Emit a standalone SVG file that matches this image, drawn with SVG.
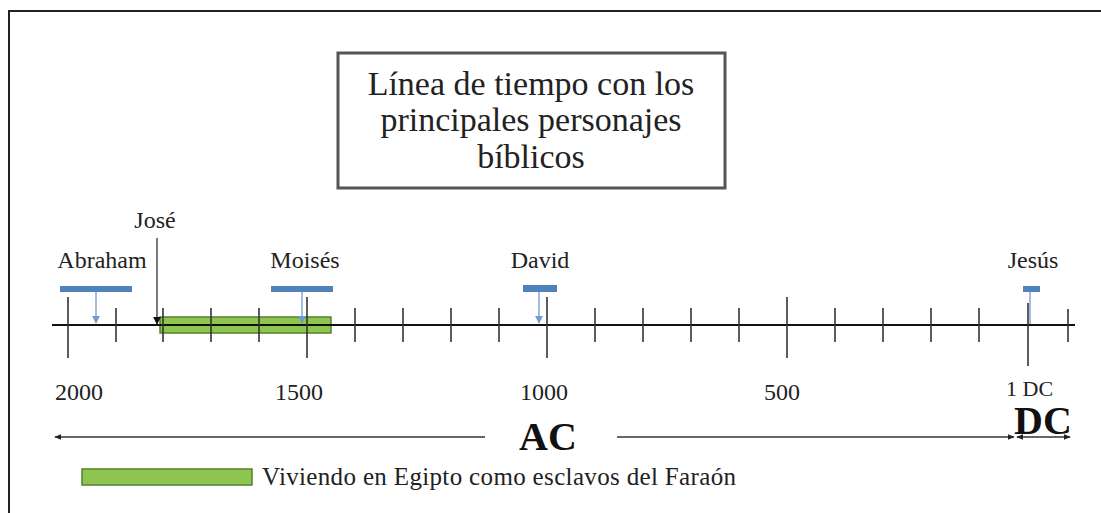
<svg xmlns="http://www.w3.org/2000/svg" width="1101" height="513" viewBox="0 0 1101 513">
<defs>
<style>
.t{font-family:"Liberation Serif","Times New Roman",serif;fill:#222}
.lbl{font-size:24px;text-anchor:middle}
.yr{font-size:24px}
.big{font-size:40px;font-weight:bold;fill:#111}
.tick{stroke:#333;stroke-width:1.6}
.bar{fill:#4f81bd}
.barln{stroke:#6f9bd0;stroke-width:1.3;fill:none}
.conn{stroke:#333;stroke-width:1.3;fill:none}
</style>
<marker id="bh" viewBox="0 0 10 10" refX="9" refY="5" markerWidth="8" markerHeight="8" markerUnits="userSpaceOnUse" orient="auto">
<path d="M0,0 L10,5 L0,10 z" fill="#6f9bd0"/>
</marker>
<marker id="kh" viewBox="0 0 10 10" refX="9" refY="5" markerWidth="8" markerHeight="8" markerUnits="userSpaceOnUse" orient="auto">
<path d="M0,0 L10,5 L0,10 z" fill="#111"/>
</marker>
<marker id="sh" viewBox="0 0 10 10" refX="9" refY="5" markerWidth="7" markerHeight="7" markerUnits="userSpaceOnUse" orient="auto-start-reverse">
<path d="M0,1 L10,5 L0,9 z" fill="#222"/>
</marker>
</defs>
<rect x="0" y="0" width="1101" height="513" fill="#fff"/>
<path d="M9,513 V11 H1101" fill="none" stroke="#222" stroke-width="2"/>

<g id="title">
<rect x="338" y="53" width="387" height="135" fill="#fff" stroke="#555" stroke-width="3"/>
<text class="t" x="531" y="95" font-size="34" text-anchor="middle">Línea de tiempo con los</text>
<text class="t" x="531" y="131" font-size="34" text-anchor="middle">principales personajes</text>
<text class="t" x="531" y="168" font-size="34" text-anchor="middle">bíblicos</text>
</g>

<g id="egypt-period">
<rect x="160" y="317" width="171" height="16" fill="#8dc54f" stroke="#55802c" stroke-width="1.5"/>
</g>

<g id="axis">
<line x1="52" y1="325" x2="1075" y2="325" stroke="#111" stroke-width="2"/>
<g class="tick">
<line x1="68" y1="297" x2="68" y2="358"/>
<line x1="116" y1="308" x2="116" y2="342"/>
<line x1="163" y1="308" x2="163" y2="342"/>
<line x1="211" y1="308" x2="211" y2="342"/>
<line x1="259" y1="308" x2="259" y2="342"/>
<line x1="307" y1="297" x2="307" y2="358"/>
<line x1="355" y1="308" x2="355" y2="342"/>
<line x1="403" y1="308" x2="403" y2="342"/>
<line x1="451" y1="308" x2="451" y2="342"/>
<line x1="499" y1="308" x2="499" y2="342"/>
<line x1="547" y1="297" x2="547" y2="358"/>
<line x1="595" y1="308" x2="595" y2="342"/>
<line x1="643" y1="308" x2="643" y2="342"/>
<line x1="691" y1="308" x2="691" y2="342"/>
<line x1="739" y1="308" x2="739" y2="342"/>
<line x1="787" y1="297" x2="787" y2="358"/>
<line x1="835" y1="308" x2="835" y2="342"/>
<line x1="883" y1="308" x2="883" y2="342"/>
<line x1="931" y1="308" x2="931" y2="342"/>
<line x1="979" y1="308" x2="979" y2="342"/>
<line x1="1028" y1="303" x2="1028" y2="366"/>
<line x1="1068" y1="309" x2="1068" y2="342"/>
</g>
</g>

<g id="abraham">
<rect class="bar" x="60" y="286" width="72" height="6"/>
<text class="t lbl" x="102" y="268">Abraham</text>
</g>
<g id="jose">
<text class="t lbl" x="155" y="228">José</text>
</g>
<g id="moises">
<rect class="bar" x="271" y="286" width="62" height="6"/>
<text class="t lbl" x="305" y="268">Moisés</text>
</g>
<g id="david">
<rect class="bar" x="523" y="285" width="34" height="7"/>
<text class="t lbl" x="540" y="268">David</text>
</g>
<g id="jesus">
<rect class="bar" x="1023" y="286" width="17" height="6"/>
<text class="t lbl" x="1033" y="268">Jesús</text>
</g>

<g id="connectors">
<line class="barln" x1="96" y1="292" x2="96" y2="323" marker-end="url(#bh)"/>
<line class="barln" x1="302" y1="292" x2="302" y2="323" marker-end="url(#bh)"/>
<line class="barln" x1="539" y1="292" x2="539" y2="323" marker-end="url(#bh)"/>
<line class="barln" x1="1030" y1="292" x2="1030" y2="324"/>
<line class="conn" x1="157" y1="238" x2="157" y2="324" marker-end="url(#kh)"/>
<line class="conn" x1="485" y1="437" x2="55" y2="437" marker-end="url(#sh)"/>
<line class="conn" x1="617" y1="437" x2="1014" y2="437" marker-end="url(#sh)"/>
<line class="conn" x1="1017" y1="437" x2="1070" y2="437" marker-start="url(#sh)" marker-end="url(#sh)"/>
</g>

<g id="years">
<text class="t yr" x="55" y="400">2000</text>
<text class="t yr" x="275" y="400">1500</text>
<text class="t yr" x="520" y="400">1000</text>
<text class="t yr" x="764" y="400">500</text>
<text class="t" x="1006" y="396" font-size="22">1 DC</text>
</g>

<g id="era-labels">
<text class="t big" x="548" y="450" text-anchor="middle">AC</text>
<text class="t big" x="1043" y="434" text-anchor="middle" font-size="37">DC</text>
</g>

<g id="legend">
<rect x="82" y="469" width="170" height="16" fill="#8dc54f" stroke="#55802c" stroke-width="1.5"/>
<text class="t" x="262" y="485" font-size="25" textLength="474">Viviendo en Egipto como esclavos del Faraón</text>
</g>
</svg>
